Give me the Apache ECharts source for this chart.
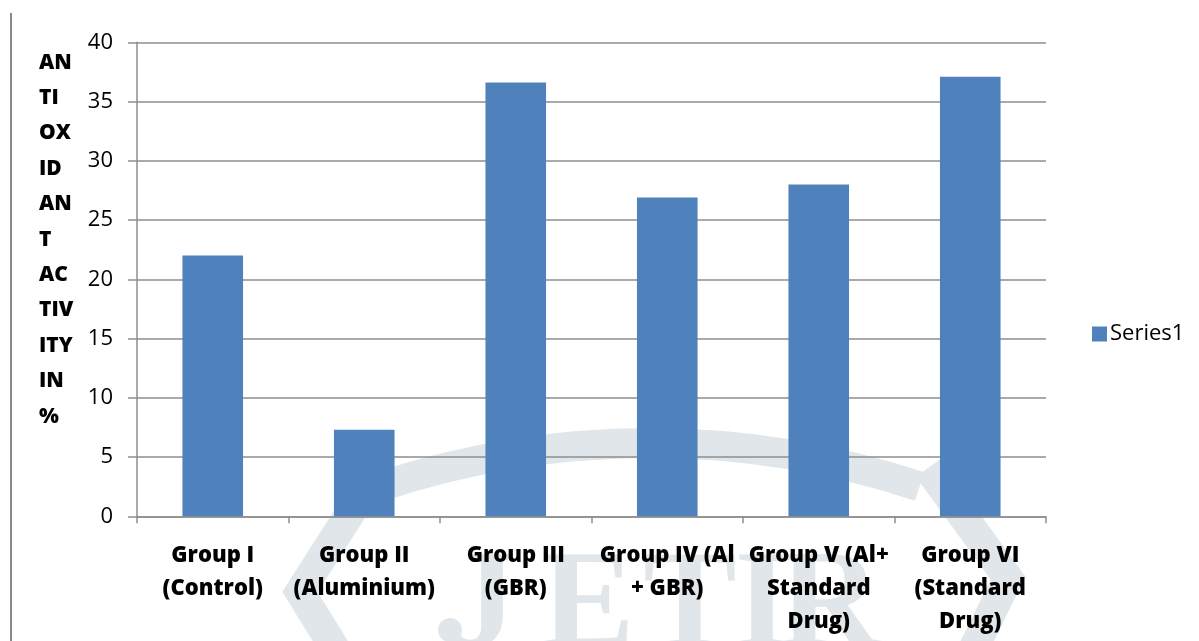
<!DOCTYPE html>
<html>
<head>
<meta charset="utf-8">
<script src="https://cdn.jsdelivr.net/npm/echarts@6/dist/echarts.min.js"></script>
<style>
  html, body { margin: 0; padding: 0; background: #ffffff; }
  #chart { width: 1199px; height: 641px; }
</style>
</head>
<body>
<div id="chart"></div>
<script>
// Treatment groups (line breaks follow the wrapped axis labels)
const categories = [
  'Group I\n(Control)',
  'Group II\n(Aluminium)',
  'Group III\n(GBR)',
  'Group IV (Al\n+ GBR)',
  'Group V (Al+\nStandard\nDrug)',
  'Group VI\n(Standard\nDrug)'
];
// Antioxidant activity, %
const series1 = [22.0, 7.3, 36.6, 26.9, 28.0, 37.1];
const seriesName = 'Series1';
// Y-axis title, broken into short lines
const yTitleLines = ['AN', 'TI', 'OX', 'ID', 'AN', 'T', 'AC', 'TIV', 'ITY', 'IN', '%'];
const yMin = 0, yMax = 40, yStep = 5;
// Watermark lettering
const wmLetters = ['J', 'E', 'T', 'I', 'R'];
const wmLetterX = [482, 588, 690, 762, 830];

const FONT = '"Open Sans", "Noto Sans", sans-serif';
const AXIS_GRAY = '#8e8e8e';
const WM = '#e0e6ea';

const chart = echarts.init(document.getElementById('chart'), null, { renderer: 'canvas' });

const watermark = [
  {
    type: 'arc', z: -10, silent: true,
    shape: { cx: 650, cy: 1300, r: 857, startAngle: 1.5 * Math.PI - 0.32, endAngle: 1.5 * Math.PI + 0.32 },
    style: { stroke: WM, lineWidth: 30, fill: null }
  },
  {
    type: 'polyline', z: -10, silent: true,
    shape: { points: [[374, 476], [300, 592], [342, 660]] },
    style: { stroke: WM, lineWidth: 30, fill: null, lineJoin: 'miter' }
  },
  {
    type: 'polyline', z: -10, silent: true,
    shape: { points: [[928, 468], [1008, 578], [968, 660]] },
    style: { stroke: WM, lineWidth: 30, fill: null, lineJoin: 'miter' }
  },
  {
    type: 'circle', z: -10, silent: true,
    shape: { cx: 450, cy: 630, r: 12 },
    style: { fill: WM }
  }
].concat(wmLetters.map((ch, i) => ({
  type: 'text', z: -10, silent: true,
  x: wmLetterX[i], y: 540,
  style: {
    text: ch, align: 'center', verticalAlign: 'top',
    fontFamily: '"Liberation Serif", "DejaVu Serif", serif',
    fontSize: 140, fontWeight: 'bold', fill: WM
  }
})));

chart.setOption({
  backgroundColor: '#ffffff',
  animation: false,
  title: {
    text: yTitleLines.join('\n'),
    left: 34,
    top: 40,
    textStyle: {
      fontFamily: FONT, fontWeight: 800, fontSize: 21,
      color: '#000000', lineHeight: 35.4
    }
  },
  legend: {
    data: [seriesName],
    left: 1087,
    top: 318,
    orient: 'vertical',
    icon: 'rect',
    itemWidth: 15,
    itemHeight: 15,
    itemGap: 8,
    textStyle: { fontFamily: FONT, fontSize: 22, color: '#000000', padding: [0, 0, 0, -2] }
  },
  grid: { left: 137, right: 153, top: 42.3, bottom: 124.7, containLabel: false },
  xAxis: {
    type: 'category',
    data: categories,
    boundaryGap: true,
    axisLine: { lineStyle: { color: AXIS_GRAY, width: 1.5 } },
    axisTick: { show: true, length: 7, alignWithLabel: false, lineStyle: { color: AXIS_GRAY, width: 1.5 } },
    axisLabel: {
      interval: 0,
      margin: 23,
      fontFamily: FONT, fontWeight: 800, fontSize: 22,
      color: '#000000', lineHeight: 33, align: 'center'
    }
  },
  yAxis: {
    type: 'value',
    min: yMin, max: yMax, interval: yStep,
    axisLine: { show: true, lineStyle: { color: AXIS_GRAY, width: 1.5 } },
    axisTick: { show: true, length: 9, lineStyle: { color: AXIS_GRAY, width: 1.5 } },
    splitLine: { show: true, lineStyle: { color: AXIS_GRAY, width: 1.5 } },
    axisLabel: {
      margin: 24,
      fontFamily: FONT, fontSize: 22, color: '#000000'
    }
  },
  series: [{
    name: seriesName,
    type: 'bar',
    data: series1,
    barCategoryGap: '60%',
    itemStyle: { color: '#4f81bd' },
    z: 3
  }],
  graphic: [
    // page border at the left edge
    {
      type: 'line', z: 10, silent: true,
      shape: { x1: 11, y1: 13, x2: 11, y2: 641 },
      style: { stroke: '#8a8a8a', lineWidth: 2 }
    }
  ].concat(watermark)
});
</script>
</body>
</html>
